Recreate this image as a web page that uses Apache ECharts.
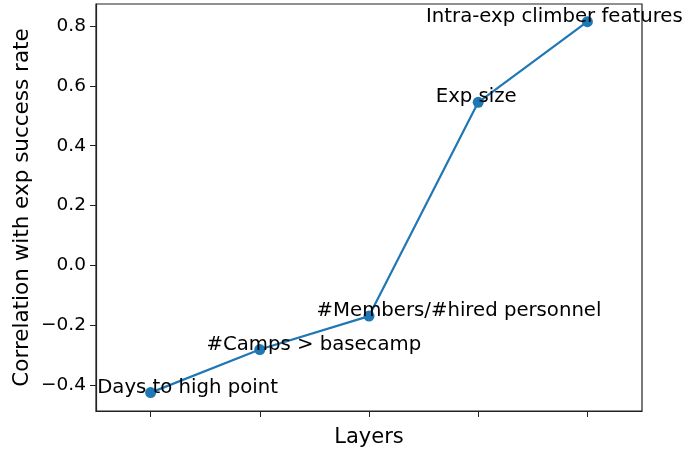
<!DOCTYPE html>
<html>
<head>
<meta charset="utf-8">
<script src="https://cdn.jsdelivr.net/npm/echarts@6/dist/echarts.min.js"></script>
<style>
  html, body { margin: 0; padding: 0; background: #fff; }
  #main { width: 685px; height: 453px; }
</style>
</head>
<body>
<div id="main"></div>
<script>
// layer names (shown as point annotations)
const layers = ['Days to high point', '#Camps > basecamp', '#Members/#hired personnel', 'Exp size', 'Intra-exp climber features'];
// correlation of each layer with exp success rate
const correlation = [-0.426, -0.282, -0.170, 0.545, 0.815];
const yTicks = [-0.4, -0.2, 0.0, 0.2, 0.4, 0.6, 0.8];

// horizontal nudge of each annotation (px), to sit like the original
const labelShift = [37, 54, 90, -2, -33];

const font = 'DejaVu Sans';
const myChart = echarts.init(document.getElementById('main'));

const option = {
  backgroundColor: '#fff',
  animation: false,
  grid: {
    left: 96, right: 43, top: 4, bottom: 42,
    show: true,
    borderColor: '#222',
    borderWidth: 1.2
  },
  xAxis: {
    type: 'category',
    data: layers,
    boundaryGap: true,
    name: 'Layers',
    nameLocation: 'middle',
    nameGap: 16,
    nameTextStyle: { fontFamily: font, fontSize: 21, color: '#000', verticalAlign: 'top' },
    axisLine: { onZero: false, lineStyle: { color: '#222', width: 1.2 } },
    axisTick: { show: true, interval: 0, alignWithLabel: true, length: 6, lineStyle: { color: '#222' } },
    axisLabel: { show: false, interval: 0 },
    splitLine: { show: false }
  },
  yAxis: {
    type: 'value',
    min: -0.4875,
    max: 0.874,
    name: 'Correlation with exp success rate',
    nameLocation: 'middle',
    nameGap: 63,
    nameMoveOverlap: false,
    nameTextStyle: { fontFamily: font, fontSize: 21.5, color: '#000' },
    axisLine: { show: true, lineStyle: { color: '#222', width: 1.2 } },
    axisTick: { show: true, length: 6, customValues: yTicks, lineStyle: { color: '#222' } },
    axisLabel: {
      customValues: yTicks,
      fontFamily: font, fontSize: 18.5, color: '#000', margin: 10,
      formatter: v => v.toFixed(1).replace('-', '\u2212')
    },
    splitLine: { show: false }
  },
  series: [{
    type: 'line',
    data: correlation.map((v, i) => ({
      value: v,
      label: { offset: [labelShift[i], -5] }
    })),
    symbol: 'circle',
    symbolSize: 11,
    lineStyle: { color: '#1f77b4', width: 2.2 },
    itemStyle: { color: '#1f77b4' },
    label: {
      show: true,
      position: 'inside',
      formatter: '{b}',
      fontFamily: font,
      fontSize: 19.7,
      color: '#000'
    }
  }]
};
myChart.setOption(option);
</script>
</body>
</html>
